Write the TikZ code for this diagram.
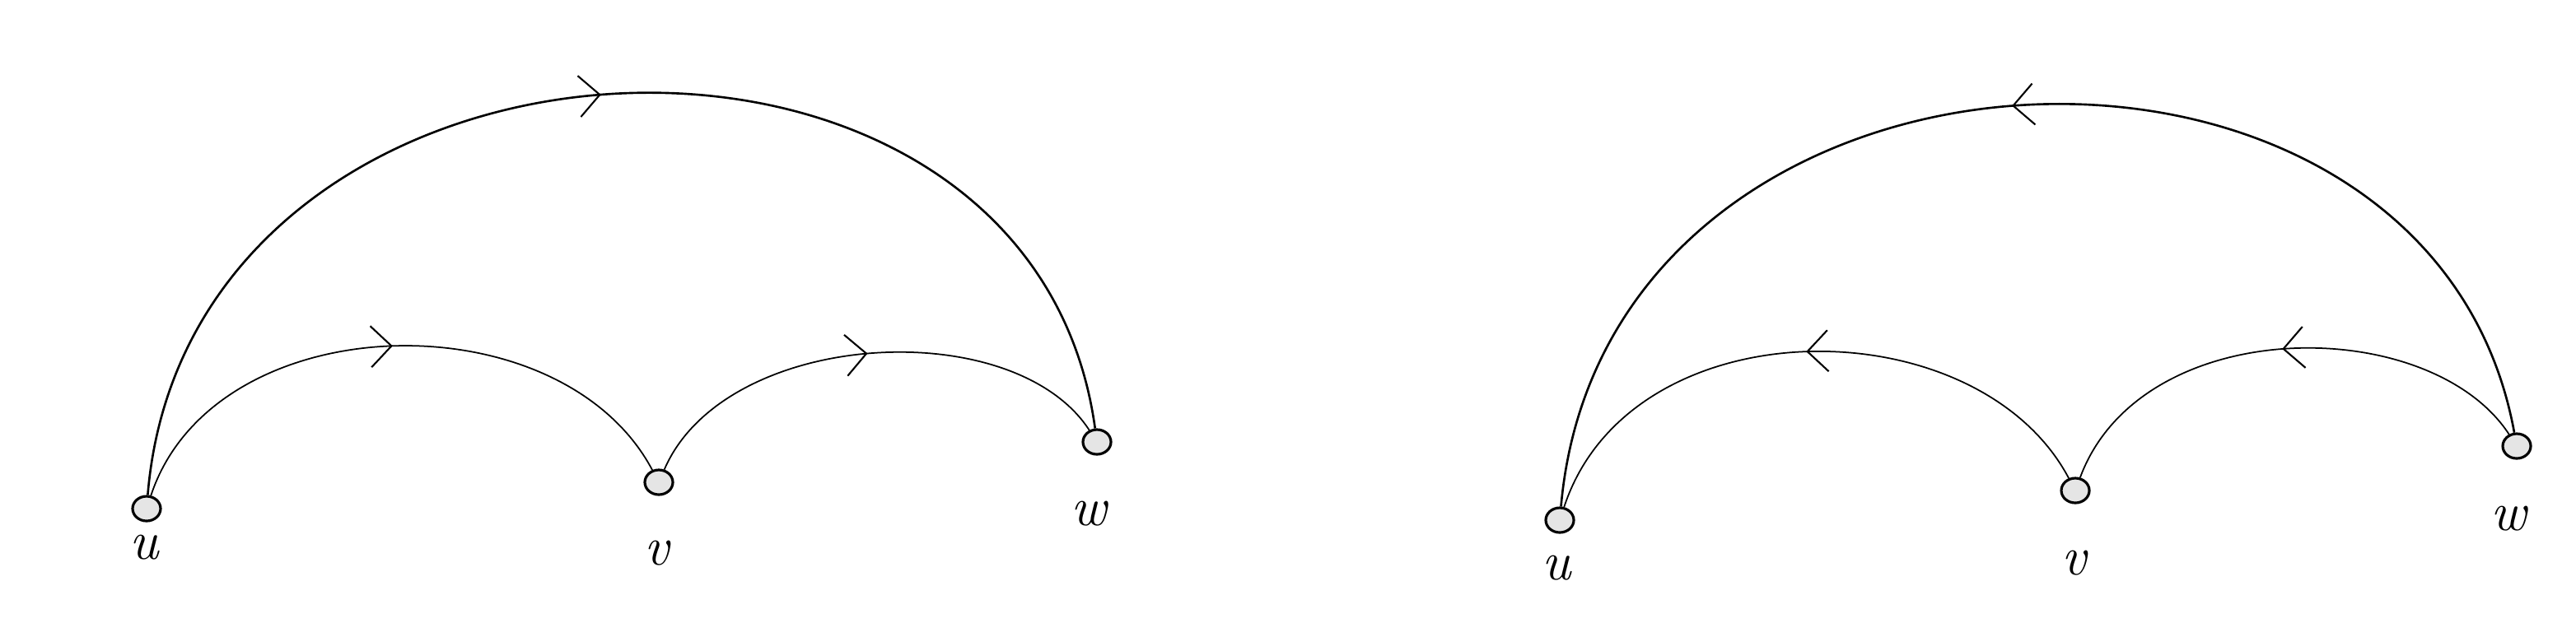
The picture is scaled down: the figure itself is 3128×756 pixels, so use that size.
\documentclass[tikz,border=0pt]{standalone}
\usetikzlibrary{decorations.markings,arrows.meta,shapes.geometric}
\begin{document}
\begin{tikzpicture}[x=0.01cm,y=-0.01cm,
  vtx/.style={ellipse,draw,line width=0.9pt,fill=gray!20,minimum width=0.34cm,minimum height=0.3cm,inner sep=0pt},
  lbl/.style={font=\fontsize{19}{20}\selectfont\itshape},
  fwd/.style={decoration={markings,mark=at position 0.5 with {\arrow{Straight Barb[length=2.5mm,width=5mm,line width=0.6pt]}}},postaction={decorate}},
  bwd/.style={decoration={markings,mark=at position 0.5 with {\arrowreversed{Straight Barb[length=2.5mm,width=5mm,line width=0.6pt]}}},postaction={decorate}},
  outer/.style={line width=0.75pt},
  inner/.style={line width=0.5pt}]
\useasboundingbox (0,0) rectangle (3128,756);
% left
\node[vtx] (u1) at (178,618) {};
\node[vtx] (v1) at (800,586) {};
\node[vtx] (w1) at (1332,537) {};
\node[lbl] (lu1) at (175,665) {u};
\node[lbl] (lv1) at (798,672) {v};
\node[lbl] (lw1) at (1322,624) {w};
\draw[outer,fwd] (u1) .. controls (230,-10) and (1250,-60) .. (w1);
\draw[inner,fwd] (u1) .. controls (260,370) and (680,360) .. (v1);
\draw[inner,fwd] (v1) .. controls (880,400) and (1230,380) .. (w1);
% right
\node[vtx] (u2) at (1894,632) {};
\node[vtx] (v2) at (2520,596) {};
\node[vtx] (w2) at (3056,542) {};
\node[lbl] (lu2) at (1890,690) {u};
\node[lbl] (lv2) at (2518,684) {v};
\node[lbl] (lw2) at (3046,630) {w};
\draw[outer,bwd] (u2) .. controls (1950,0) and (2950,-40) .. (w2);
\draw[inner,bwd] (u2) .. controls (1980,370) and (2400,370) .. (v2);
\draw[inner,bwd] (v2) .. controls (2600,380) and (2950,380) .. (w2);
\end{tikzpicture}
\end{document}
